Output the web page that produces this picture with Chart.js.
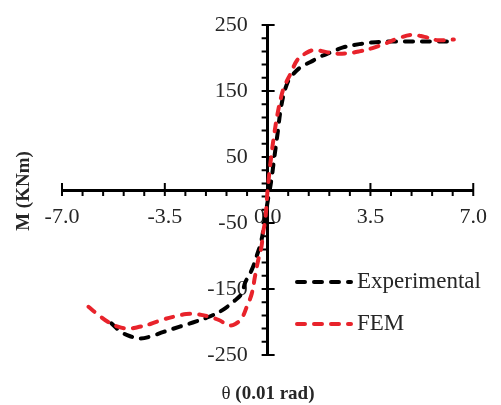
<!DOCTYPE html>
<html>
<head>
<meta charset="utf-8">
<script src="https://cdn.jsdelivr.net/npm/chart.js@4"></script>
<style>
html, body { margin: 0; padding: 0; background: #fff; }
#wrap { width: 501px; height: 405px; }
</style>
</head>
<body>
<div id="wrap"><canvas id="chart"></canvas></div>
<script>
// values (rotation in 0.01 rad, moment in kNm)
const expX = [-5.32, -4.99, -4.66, -4.32, -3.99, -3.54, -2.99, -2.43, -1.99, -1.54, -1.16, -0.88, -0.77, -0.54, -0.38, -0.21, -0.10, 0.01, 0.12, 0.23, 0.34, 0.46, 0.62, 0.79, 1.12, 1.46, 1.79, 2.12, 2.57, 3.12, 3.68, 4.23, 4.90, 5.57, 6.33];
const expY = [-202, -215, -222, -225, -222, -215, -207, -199, -192, -182, -169, -157, -141, -121, -101, -76, -45, -15, 13, 50, 86, 126, 156, 171, 186, 194, 202, 208, 216, 221, 224, 225, 225, 225, 225];
const femX = [-6.10, -5.77, -5.43, -5.10, -4.77, -4.43, -3.99, -3.54, -3.10, -2.77, -2.43, -1.99, -1.66, -1.32, -1.10, -0.88, -0.71, -0.54, -0.43, -0.32, -0.21, -0.16, -0.08, 0.00, 0.12, 0.23, 0.34, 0.46, 0.57, 0.79, 1.01, 1.29, 1.57, 1.90, 2.23, 2.68, 3.12, 3.57, 4.01, 4.46, 4.90, 5.34, 5.79, 6.34];
const femY = [-177, -189, -200, -207, -210, -208, -203, -196, -191, -188, -188, -192, -197, -205, -203, -194, -177, -157, -131, -106, -86, -66, -45, 0, 50, 86, 116, 141, 157, 177, 197, 207, 212, 210, 207, 207, 210, 215, 222, 230, 235, 232, 227, 228];

const xLabels = [-7, -3.5, 0, 3.5, 7];
const yLabels = [-250, -150, -50, 50, 150, 250];
const xMinor = 0.7;
const yMinor = 20;

const FONT = "'Liberation Serif', 'Times New Roman', serif";
const INK = '#262626';

function pts(xs, ys) {
  return xs.map((x, i) => ({ x: x, y: ys[i] }));
}

// crossing major ticks, one-sided minor ticks, y labels left of the axis
const axisTicks = {
  id: 'axisTicks',
  beforeDatasetsDraw(chart) {
    const ctx = chart.ctx, sx = chart.scales.x, sy = chart.scales.y;
    const x0 = sx.getPixelForValue(0), y0 = sy.getPixelForValue(0);
    ctx.save();
    ctx.strokeStyle = '#000';
    ctx.lineWidth = 2;
    ctx.beginPath();
    for (let v = sx.min; v <= sx.max + 1e-6; v += xMinor) {
      const p = sx.getPixelForValue(v);
      const major = xLabels.some(m => Math.abs(m - v) < 1e-6);
      ctx.moveTo(p, major ? y0 - 7 : y0);
      ctx.lineTo(p, y0 + 6);
    }
    for (let v = sy.min; v <= sy.max + 1e-6; v += yMinor) {
      const p = sy.getPixelForValue(v);
      const major = yLabels.some(m => Math.abs(m - v) < 1e-6);
      ctx.moveTo(x0 - 6, p);
      ctx.lineTo(major ? x0 + 7 : x0, p);
    }
    ctx.stroke();

    ctx.fillStyle = INK;
    ctx.font = '22px ' + FONT;
    ctx.textAlign = 'right';
    ctx.textBaseline = 'middle';
    sy.ticks.forEach(t => {
      ctx.fillText(String(t.value), x0 - 20, sy.getPixelForValue(t.value));
    });
    ctx.restore();
  }
};

// axis titles and legend drawn over the plot
const overlay = {
  id: 'overlay',
  afterDraw(chart) {
    const ctx = chart.ctx;
    ctx.save();
    ctx.fillStyle = INK;
    ctx.textBaseline = 'middle';

    // y title
    ctx.save();
    ctx.translate(24, 191);
    ctx.rotate(-Math.PI / 2);
    ctx.textAlign = 'center';
    ctx.font = 'bold 19px ' + FONT;
    ctx.fillText('M (KNm)', 0, 0);
    ctx.restore();

    // x title, theta in regular weight
    ctx.textAlign = 'left';
    const a = '\u03b8 ', b = '(0.01 rad)';
    ctx.font = '19px ' + FONT;
    const wa = ctx.measureText(a).width;
    ctx.font = 'bold 19px ' + FONT;
    const wb = ctx.measureText(b).width;
    const sx = 268 - (wa + wb) / 2;
    ctx.font = '19px ' + FONT;
    ctx.fillText(a, sx, 394);
    ctx.font = 'bold 19px ' + FONT;
    ctx.fillText(b, sx + wa, 394);

    // legend
    const rows = [282, 324];
    chart.data.datasets.forEach((ds, i) => {
      const y = rows[i];
      ctx.save();
      ctx.strokeStyle = ds.borderColor;
      ctx.lineWidth = 4;
      ctx.lineCap = 'round';
      ctx.setLineDash([8, 9]);
      ctx.beginPath();
      ctx.moveTo(297, y);
      ctx.lineTo(351, y);
      ctx.stroke();
      ctx.restore();
      ctx.font = '23px ' + FONT;
      ctx.fillStyle = INK;
      ctx.fillText(ds.label, 357, y);
    });
    ctx.restore();
  }
};

new Chart(document.getElementById('chart'), {
  type: 'scatter',
  data: {
    datasets: [{
      label: 'Experimental',
      data: pts(expX, expY),
      showLine: true,
      borderColor: '#000000',
      borderWidth: 4,
      borderDash: [8, 9],
      borderCapStyle: 'round',
      pointRadius: 0,
      tension: 0.4,
      order: 1
    }, {
      label: 'FEM',
      data: pts(femX, femY),
      showLine: true,
      borderColor: '#e8232b',
      borderWidth: 4,
      borderDash: [8, 9],
      borderCapStyle: 'round',
      pointRadius: 0,
      tension: 0.4,
      order: 0
    }]
  },
  options: {
    responsive: true,
    maintainAspectRatio: false,
    animation: false,
    layout: { padding: { left: 62, right: 18, top: 25, bottom: 50 } },
    plugins: { legend: { display: false }, tooltip: { enabled: false } },
    scales: {
      x: {
        type: 'linear',
        position: { y: 0 },
        min: -7,
        max: 7,
        afterBuildTicks: s => { s.ticks = xLabels.map(v => ({ value: v })); },
        ticks: {
          autoSkip: false,
          maxRotation: 0,
          padding: 14,
          color: INK,
          font: { family: FONT, size: 22 },
          callback: v => Number(v).toFixed(1)
        },
        grid: { display: false, drawTicks: false },
        border: { display: true, width: 3, color: '#000' }
      },
      y: {
        type: 'linear',
        position: { x: 0 },
        min: -250,
        max: 250,
        afterBuildTicks: s => { s.ticks = yLabels.map(v => ({ value: v })); },
        ticks: { display: false },
        grid: { display: false, drawTicks: false },
        border: { display: true, width: 3, color: '#000' }
      }
    }
  },
  plugins: [axisTicks, overlay]
});
</script>
</body>
</html>
